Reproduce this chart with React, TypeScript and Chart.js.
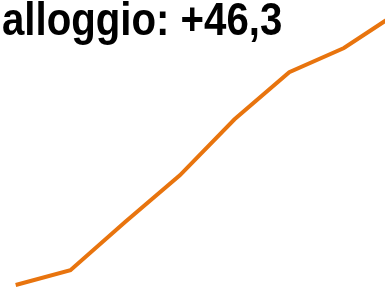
import React, { useEffect, useRef } from "react";
import { Chart, registerables } from "chart.js";

Chart.register(...registerables);

const titleText = "alloggio: +46,3";
const periods = [0, 1, 2, 3, 4, 5, 6, 7];
const cumulativeChange = [0, 2.5, 10.7, 18.6, 28.1, 36.1, 40.2, 46.3];

export default function App() {
  const canvasRef = useRef<HTMLCanvasElement | null>(null);

  useEffect(() => {
    document.body.style.margin = "0";
    const ctx = canvasRef.current;
    if (!ctx) return;
    const chart = new Chart(ctx, {
      type: "line",
      data: {
        datasets: [
          {
            data: periods.map((p, i) => ({ x: p, y: cumulativeChange[i] })),
            borderColor: "#e8740e",
            borderWidth: 4,
            pointRadius: 0,
            tension: 0,
            fill: false,
            clip: false as any,
          },
        ],
      },
      options: {
        animation: false,
        responsive: false,
        maintainAspectRatio: false,
        layout: { padding: 0 },
        plugins: { legend: { display: false }, tooltip: { enabled: false }, title: { display: false } },
        scales: {
          x: { type: "linear", display: false, min: -0.287, max: 6.75 },
          y: { type: "linear", display: false, min: -0.34, max: 48.34 },
        },
      },
    });
    return () => chart.destroy();
  }, []);

  return (
    <div style={{ position: "relative", width: 385, height: 287, overflow: "hidden", background: "#fff" }}>
      <canvas ref={canvasRef} width={385} height={287} style={{ position: "absolute", left: 0, top: 0 }} />
      <div
        style={{
          position: "absolute",
          left: 2,
          top: -9,
          fontFamily: '"Liberation Sans", Arial, sans-serif',
          fontWeight: "bold",
          fontSize: 47,
          lineHeight: "normal",
          color: "#000",
          whiteSpace: "nowrap",
          transform: "scaleX(0.855)",
          transformOrigin: "0 0",
        }}
      >
        {titleText}
      </div>
    </div>
  );
}
